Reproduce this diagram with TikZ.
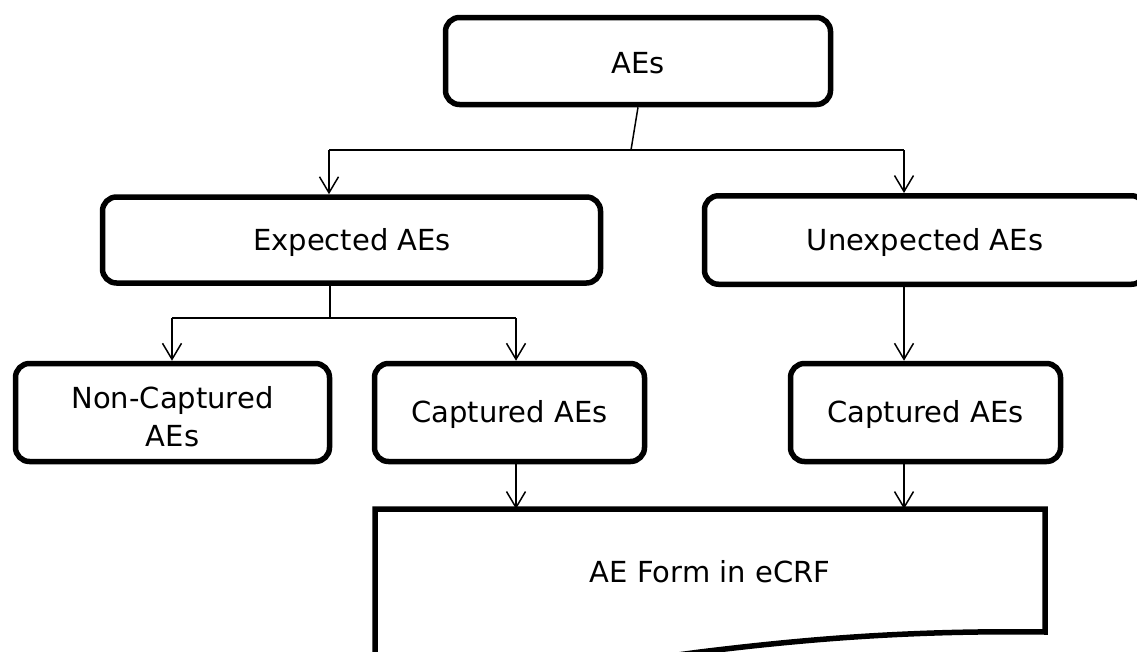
\documentclass[tikz,border=0pt]{standalone}
\usepackage{fontspec}
\setmainfont{DejaVu Sans}
\usetikzlibrary{arrows.meta}
\begin{document}
\begin{tikzpicture}[x=1pt,y=-1pt,
  box/.style={draw, line width=5.5pt, rounded corners=14pt, fill=white, align=center, inner sep=0pt,
    font=\fontsize{29}{36}\selectfont},
  conn/.style={line width=1.5pt},
  arr/.style={conn, -{Straight Barb[length=16pt,width=19pt,line width=1.5pt]}},
  lbl/.style={font=\fontsize{29}{36}\selectfont, inner sep=0pt}]
\useasboundingbox (0,0) rectangle (1137,651);
\clip (0,0) rectangle (1137,651);
\fill[white] (0,0) rectangle (1137,651);

% boxes
\node[box, minimum width=385pt, minimum height=87pt] (ae) at (638,61) {};
\node[lbl] at (638,63) {AEs};
\node[box, minimum width=498pt, minimum height=86pt] (exp) at (351.5,240) {};
\node[lbl] at (352,242) {Expected AEs};
\node[box, minimum width=441pt, minimum height=88.5pt] (unexp) at (925,240) {};
\node[lbl] at (925,242) {Unexpected AEs};
\node[box, minimum width=314pt, minimum height=98pt] (nc) at (172.5,412.5) {};
\node[lbl, align=center, font=\fontsize{29}{38}\selectfont] at (172.5,417) {Non-Captured\\AEs};
\node[box, minimum width=270pt, minimum height=98pt] (cap1) at (509.5,412.5) {};
\node[lbl] at (509.5,414) {Captured AEs};
\node[box, minimum width=270pt, minimum height=98pt] (cap2) at (925.5,412.5) {};
\node[lbl] at (925.5,414) {Captured AEs};

% document shape
\coordinate (docTL) at (375,509);
\coordinate (docTR) at (1045,509);
\draw[line width=5.5pt, fill=white, line join=miter]
  (docTL) -- (docTR) -- (1045,632)
  .. controls (900,630) and (790,641) .. (700,652)
  .. controls (600,665) and (450,690) .. (375,680) -- cycle;
\node[lbl] (doc) at (710,572) {AE Form in eCRF};

% connectors
\coordinate (j1) at (631,150);
\coordinate (jL) at (329,150);
\coordinate (jR) at (904,150);
\draw[conn] (ae.south -| 638,0) -- (j1);
\draw[conn] (jL) -- (jR);
\draw[arr] (jL) -- (jL |- exp.north);
\draw[arr] (jR) -- (jR |- unexp.north);

\coordinate (e1) at (330,282.5);
\coordinate (e2) at (330,318);
\coordinate (eL) at (172,318);
\coordinate (eR) at (516,318);
\draw[conn] (e1) -- (e2);
\draw[conn] (eL) -- (eR);
\draw[arr] (eL) -- (eL |- nc.north);
\draw[arr] (eR) -- (eR |- cap1.north);

\coordinate (u1) at (904,284);
\draw[arr] (u1) -- (u1 |- cap2.north);

\coordinate (c1) at (516,461.5);
\coordinate (c2) at (904,461.5);
\draw[arr] (c1) -- (c1 |- docTL);
\draw[arr] (c2) -- (c2 |- docTL);
\end{tikzpicture}
\end{document}
